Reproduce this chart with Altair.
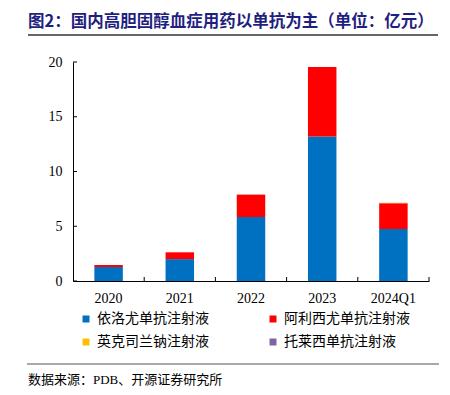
import altair as alt
import pandas as pd

years = ["2020", "2021", "2022", "2023", "2024Q1"]
series = ["依洛尤单抗注射液", "阿利西尤单抗注射液", "英克司兰钠注射液", "托莱西单抗注射液"]
evolocumab = [1.28, 2.00, 5.84, 13.20, 4.75]
alirocumab = [0.18, 0.62, 2.05, 6.34, 2.35]
inclisiran = [0.0, 0.0, 0.0, 0.0, 0.03]
tafolecimab = [0.0, 0.0, 0.0, 0.0, 0.01]
colors = ["#0070C0", "#FF0000", "#FFC000", "#8064A2"]
y_ticks = [0, 5, 10, 15, 20]
title_text = ["图2：国内高胆固醇血症用药以单抗为主（单位：亿元）"]
source_text = ["数据来源：PDB、开源证券研究所"]

rows = []
for s_i, (name, vals) in enumerate(zip(series, [evolocumab, alirocumab, inclisiran, tafolecimab])):
    for yr, v in zip(years, vals):
        rows.append({"year": yr, "series": name, "value": v, "order": s_i})
df = pd.DataFrame(rows)

W, H = 356, 219
SERIF = "Liberation Serif"
CJK = "Liberation Serif, Noto Sans CJK SC"

xscale = alt.Scale(domain=years, paddingInner=0, paddingOuter=0)
yscale = alt.Scale(domain=[0, 20], nice=False)

xaxis = alt.Axis(title=None, labelAngle=0, ticks=False, domainColor="#000",
                 domainWidth=1, labelFont=SERIF, labelFontSize=14,
                 labelColor="#000", labelPadding=10)
yaxis = alt.Axis(title=None, values=y_ticks, grid=False, ticks=False,
                 domainColor="#000", domainWidth=1, labelFont=SERIF,
                 labelFontSize=14, labelColor="#000", labelPadding=11)

bars = alt.Chart(df).mark_bar(width=alt.RelativeBandSize(0.4)).encode(
    x=alt.X("year:N", scale=xscale, sort=years, axis=xaxis),
    y=alt.Y("value:Q", stack="zero", scale=yscale, axis=yaxis),
    color=alt.Color("series:N", scale=alt.Scale(domain=series, range=colors),
                    legend=alt.Legend(orient="none", legendX=6, legendY=250, columns=2,
                                      direction="horizontal",
                                      title=None, symbolType="square", symbolSize=49,
                                      symbolStrokeWidth=0, labelFont=CJK, labelFontSize=14,
                                      labelColor="#000", labelOffset=4, columnPadding=57,
                                      rowPadding=9, padding=0, labelLimit=300)),
    order=alt.Order("order:Q"),
)

xt = alt.Chart(pd.DataFrame({"year": years})).mark_rule(color="#000").encode(
    x=alt.X("year:N", bandPosition=1, scale=xscale, sort=years, axis=xaxis),
    y=alt.value(H), y2=alt.value(H - 4),
)

yt = alt.Chart(pd.DataFrame({"value": y_ticks})).mark_rule(color="#000").encode(
    y=alt.Y("value:Q", scale=yscale, axis=yaxis),
    x=alt.value(0), x2=alt.value(4),
)

title = alt.Chart(pd.DataFrame({"t": title_text})).mark_text(
    align="left", baseline="middle", font="Noto Sans CJK SC", fontWeight="bold",
    fontSize=16.5, color="#1F1F7F",
).encode(text="t:N", x=alt.value(-45), y=alt.value(-40))

title_line = alt.Chart(pd.DataFrame({"a": [0]})).mark_rule(color="#333", strokeWidth=1.5).encode(
    x=alt.value(-45), x2=alt.value(365), y=alt.value(-27),
)

source_line = alt.Chart(pd.DataFrame({"a": [0]})).mark_rule(color="#555", strokeWidth=1.2).encode(
    x=alt.value(-46), x2=alt.value(366), y=alt.value(302),
)

source = alt.Chart(pd.DataFrame({"t": source_text})).mark_text(
    align="left", baseline="middle", font=CJK, fontSize=13, color="#000",
).encode(text="t:N", x=alt.value(-45), y=alt.value(318))

chart = alt.layer(bars, xt, yt, title, title_line, source_line, source).properties(
    width=W, height=H,
    autosize=alt.AutoSizeParams(type="none"),
    padding={"left": 65, "top": 54, "right": 13, "bottom": 106},
).configure_view(stroke=None)

chart.save("out.html", embed_options={"renderer": "svg", "actions": False})
